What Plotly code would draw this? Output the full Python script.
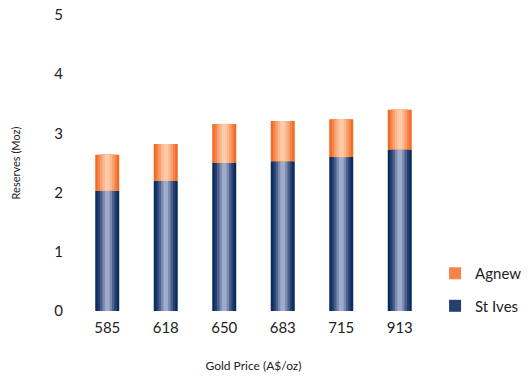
import plotly.graph_objects as go

categories = ["585", "618", "650", "683", "715", "913"]
st_ives = [2.03, 2.20, 2.50, 2.53, 2.60, 2.73]
agnew = [0.61, 0.62, 0.66, 0.68, 0.64, 0.67]

navy_layers = ["#0b2a5e", "#23406f", "#4a5f8c", "#7a89b0", "#9fabcb"]
orange_layers = ["#f36b21", "#f6844a", "#f9a06f", "#fbb88f", "#fdcba8"]
width_frac = [1.0, 0.8, 0.6, 0.4, 0.2]
bar_w = 0.41

fig = go.Figure()

def add_series(name, values, base, colors, rank):
    for i, (c, f) in enumerate(zip(colors, width_frac)):
        fig.add_trace(go.Bar(
            x=categories, y=values, base=base, name=name,
            width=bar_w * f, marker=dict(color=c, line=dict(width=0)),
            legendgroup=name, showlegend=(i == 1), legendrank=rank,
            hoverinfo="skip" if i else None,
        ))

add_series("St Ives", st_ives, [0] * len(st_ives), navy_layers, 2)
add_series("Agnew", agnew, st_ives, orange_layers, 1)

fig.update_layout(
    width=528, height=378,
    barmode="overlay",
    plot_bgcolor="white", paper_bgcolor="white",
    margin=dict(l=78, r=99, t=15, b=67, autoexpand=False),
    font=dict(family="Lato, sans-serif", color="#222222"),
    legend=dict(xref="container", yref="container", x=0.824, xanchor="left",
                y=0.234, yanchor="middle",
                font=dict(size=15), tracegroupgap=10),
    xaxis=dict(showgrid=False, showline=False, zeroline=False, automargin=False,
               tickfont=dict(size=15), ticks="", ticklabelstandoff=6,
               ticklabeloverflow="allow",
               title=dict(text="Gold Price (A$/oz)", font=dict(size=12), standoff=26)),
    yaxis=dict(range=[0, 5], dtick=1, showgrid=False, showline=False, zeroline=False,
               automargin=False, ticklabeloverflow="allow",
               tickfont=dict(size=15), ticks="", ticklabelstandoff=14,
               title=dict(text="Reserves (Moz)", font=dict(size=11), standoff=31)),
)

fig.write_html("out.html", config={"displayModeBar": False},
               post_script="document.body.style.margin='0';document.body.style.overflow='hidden';")
